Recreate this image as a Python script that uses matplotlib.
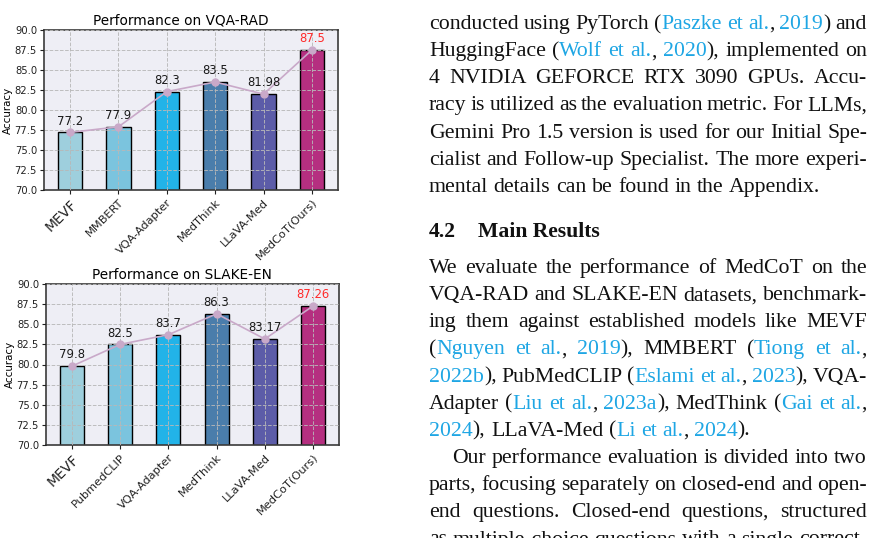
import matplotlib
matplotlib.use("Agg")
import matplotlib.pyplot as plt
import numpy as np

W, H, DPI = 875, 538, 100

# ---------------- data ----------------
vqa_models = ["MEVF", "MMBERT", "VQA-Adapter", "MedThink", "LLaVA-Med", "MedCoT(Ours)"]
vqa_acc = [77.2, 77.9, 82.3, 83.5, 81.98, 87.5]
vqa_labels = ["77.2", "77.9", "82.3", "83.5", "81.98", "87.5"]

slake_models = ["MEVF", "PubmedCLIP", "VQA-Adapter", "MedThink", "LLaVA-Med", "MedCoT(Ours)"]
slake_acc = [79.8, 82.5, 83.7, 86.3, 83.17, 87.26]
slake_labels = ["79.8", "82.5", "83.7", "86.3", "83.17", "87.26"]

bar_colors = ["#9ecfdd", "#7bc4de", "#22b3e8", "#4a7dab", "#5c5ca8", "#b52f80"]
yticks = [70.0, 72.5, 75.0, 77.5, 80.0, 82.5, 85.0, 87.5, 90.0]

top_lines = [
    "conducted using PyTorch ({Paszke et al.}, {2019}) and",
    "HuggingFace ({Wolf et al.}, {2020}), implemented on",
    "4 NVIDIA GEFORCE RTX 3090 GPUs.  Accu-",
    "racy is utilized as the evaluation metric. For LLMs,",
    "Gemini Pro 1.5 version is used for our Initial Spe-",
    "cialist and Follow-up Specialist. The more experi-",
    "mental details can be found in the Appendix.",
]
bottom_lines = [
    "We evaluate the performance of MedCoT on the",
    "VQA-RAD and SLAKE-EN datasets, benchmark-",
    "ing them against established models like MEVF",
    "({Nguyen et al.}, {2019}), MMBERT ({Tiong et al.},",
    "{2022b}), PubMedCLIP ({Eslami et al.}, {2023}), VQA-",
    "Adapter ({Liu et al.}, {2023a}), MedThink ({Gai et al.},",
    "{2024}), LLaVA-Med ({Li et al.}, {2024}).",
    "Our performance evaluation is divided into two",
    "parts, focusing separately on closed-end and open-",
    "end questions.  Closed-end questions, structured",
    "as multiple-choice questions with a single correct",
]

fig = plt.figure(figsize=(W / DPI, H / DPI), dpi=DPI)
fig.patch.set_facecolor("white")


def px_axes(l, t, r, b):
    return [l / W, 1 - b / H, (r - l) / W, (b - t) / H]


def draw_chart(ax, models, acc, labels, title):
    ax.set_facecolor("#eeeef5")
    x = np.arange(len(models))
    ax.bar(x, acc, width=0.5, color=bar_colors, edgecolor="black", linewidth=1.0, zorder=2)
    ax.plot(x, acc, color="#c9a9c9", marker="o", markersize=5, linewidth=1.2, zorder=4)
    for i, (v, lab) in enumerate(zip(acc, labels)):
        col = "#ff2a2a" if i == len(acc) - 1 else "#1a1a1a"
        ax.annotate(lab, (i, v), xytext=(0, 3.5), textcoords="offset points",
                    ha="center", va="bottom", fontsize=8.4, color=col, zorder=5)
    ax.set_ylim(70, 90)
    ax.set_xlim(-0.54, len(models) - 0.46)
    ax.set_yticks(yticks)
    ax.set_yticklabels([f"{t:.1f}" for t in yticks], fontsize=7.2)
    ax.set_xticks(x)
    ax.set_xticklabels(models, rotation=45, ha="right", va="top",
                       rotation_mode="anchor", fontsize=8.2)
    ax.get_xticklabels()[0].set_fontsize(10)
    ax.set_axisbelow(False)
    ax.grid(True, linestyle="--", color="#b8b8b8", linewidth=0.7, alpha=0.9)
    ax.tick_params(length=3, width=0.8, pad=2, colors="#222222")
    for s in ax.spines.values():
        s.set_color("#3a3a3a")
        s.set_linewidth(1.2)
    ax.set_ylabel("Accuracy", fontsize=7.4, labelpad=1.5)
    ax.set_title(title, fontsize=9.8, pad=3.6, x=0.465)


ax1 = fig.add_axes(px_axes(44, 30, 338, 190))
draw_chart(ax1, vqa_models, vqa_acc, vqa_labels, "Performance on VQA-RAD")
ax2 = fig.add_axes(px_axes(46, 284, 339, 445))
draw_chart(ax2, slake_models, slake_acc, slake_labels, "Performance on SLAKE-EN")

# ---------------- justified text column ----------------
SERIF = "Liberation Serif"
BLACK = "#111111"
BLUE = "#1ea6e4"
renderer = fig.canvas.get_renderer()


def text_width(s, fs, weight="normal"):
    t = fig.text(0, 0, s, fontsize=fs, family=SERIF, weight=weight)
    w = t.get_window_extent(renderer).width
    t.remove()
    return w


def parse(line):
    words, cur, buf = [], [], ""
    color = BLACK
    for ch in line:
        if ch == "{":
            if buf:
                cur.append((buf, color)); buf = ""
            color = BLUE
        elif ch == "}":
            if buf:
                cur.append((buf, color)); buf = ""
            color = BLACK
        elif ch == " ":
            if buf:
                cur.append((buf, color)); buf = ""
            if cur:
                words.append(cur); cur = []
        else:
            buf += ch
    if buf:
        cur.append((buf, color))
    if cur:
        words.append(cur)
    return words


# calibrate font size on the last line of the first paragraph (natural width ~389 px)
w10 = text_width("mental details can be found in the Appendix.", 10)
FS = 10 * 389 / w10
space_w = text_width("x x", FS) - text_width("xx", FS)

X0, X1 = 429, 867


def draw_line(line, base_y, justify, indent=0):
    words = parse(line)
    widths = [[text_width(s, FS) for s, c in w] for w in words]
    total = sum(sum(ws) for ws in widths)
    n = len(words)
    if justify and n > 1:
        gap = (X1 - X0 - indent - total) / (n - 1)
    else:
        gap = space_w
    x = X0 + indent
    for w, ws in zip(words, widths):
        for (s, c), pw in zip(w, ws):
            fig.text(x / W, 1 - base_y / H, s, color=c, fontsize=FS, family=SERIF,
                     va="baseline", ha="left")
            x += pw
        x += gap


LS = 27.15
for i, line in enumerate(top_lines):
    draw_line(line, 29 + i * LS, justify=(i < len(top_lines) - 1))

# heading
HFS = 10 * 122 / text_width("Main Results", 10, weight="bold")
fig.text(X0 / W, 1 - 236.7 / H, "4.2", fontsize=HFS, family=SERIF, weight="bold",
         va="baseline", ha="left", color=BLACK)
fig.text(478 / W, 1 - 236.7 / H, "Main Results", fontsize=HFS, family=SERIF,
         weight="bold", va="baseline", ha="left", color=BLACK)

for i, line in enumerate(bottom_lines):
    last_of_par = (i == 6) or (i == len(bottom_lines) - 1)
    indent = 23 if i == 7 else 0
    draw_line(line, 273 + i * LS, justify=not last_of_par, indent=indent)

fig.savefig("out.png", dpi=DPI)
